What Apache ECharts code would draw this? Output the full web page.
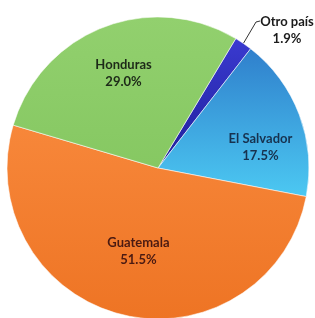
<!DOCTYPE html>
<html>
<head>
<meta charset="utf-8">
<script src="https://cdn.jsdelivr.net/npm/echarts@6/dist/echarts.min.js"></script>
<style>
  html, body { margin: 0; padding: 0; background: #fff; }
  #pie { width: 315px; height: 318px; }
</style>
</head>
<body>
<div id="pie"></div>
<script>
// categorias y porcentajes (orden horario desde arriba)
const paises = ['Otro país', 'El Salvador', 'Guatemala', 'Honduras'];
const porcentajes = [1.9, 17.5, 51.5, 29.0];

let myPieChart = echarts.init(document.getElementById('pie'));

function grad(top, bottom) {
    return new echarts.graphic.LinearGradient(0, 0, 0, 1, [
        { offset: 0, color: top },
        { offset: 1, color: bottom }
    ]);
}

// estilos por rebanada
const estilos = [
    { color: grad('#3a3ad0', '#1f1f9a'), text: '#1b1b1b', pos: 'outside', offset: [0, 0] },
    { color: grad('#2f7fcc', '#4cc9f2'), text: '#17324f', pos: 'inside', offset: [29, 7] },
    { color: grad('#f7873a', '#ee7424'), text: '#4a1a12', pos: 'inside', offset: [-1, 7] },
    { color: grad('#92d06e', '#86c862'), text: '#1d2a18', pos: 'inside', offset: [-6, -22] }
];

let datos = paises.map((p, i) => ({
    name: p,
    value: porcentajes[i],
    itemStyle: { color: estilos[i].color },
    label: {
        position: estilos[i].pos,
        offset: estilos[i].offset,
        color: estilos[i].text
    }
}));

let pieOption = {
    backgroundColor: '#ffffff',
    animation: false,
    series: [{
        type: 'pie',
        center: [158, 168],
        radius: 151,
        startAngle: 59,
        clockwise: true,
        avoidLabelOverlap: false,
        itemStyle: {
            borderColor: 'rgba(255,255,255,0.55)',
            borderWidth: 1
        },
        label: {
            formatter: p => p.name + '\n' + p.value.toFixed(1) + '%',
            fontFamily: 'Lato',
            fontWeight: 'bold',
            fontSize: 13,
            lineHeight: 17,
            align: 'center'
        },
        labelLine: {
            length: 18,
            length2: 4,
            lineStyle: { color: '#333', width: 1 }
        },
        // etiqueta externa: arriba a la derecha, con su linea guia
        labelLayout: function (params) {
            if (params.dataIndex !== 0) return {};
            let pts = params.labelLinePoints;
            let res = { x: 287, y: 13, align: 'center', verticalAlign: 'top' };
            if (pts && pts.length) {
                res.labelLinePoints = [pts[0], [256, 22], [260, 21]];
            }
            return res;
        },
        data: datos
    }]
};

myPieChart.setOption(pieOption);
</script>
</body>
</html>
